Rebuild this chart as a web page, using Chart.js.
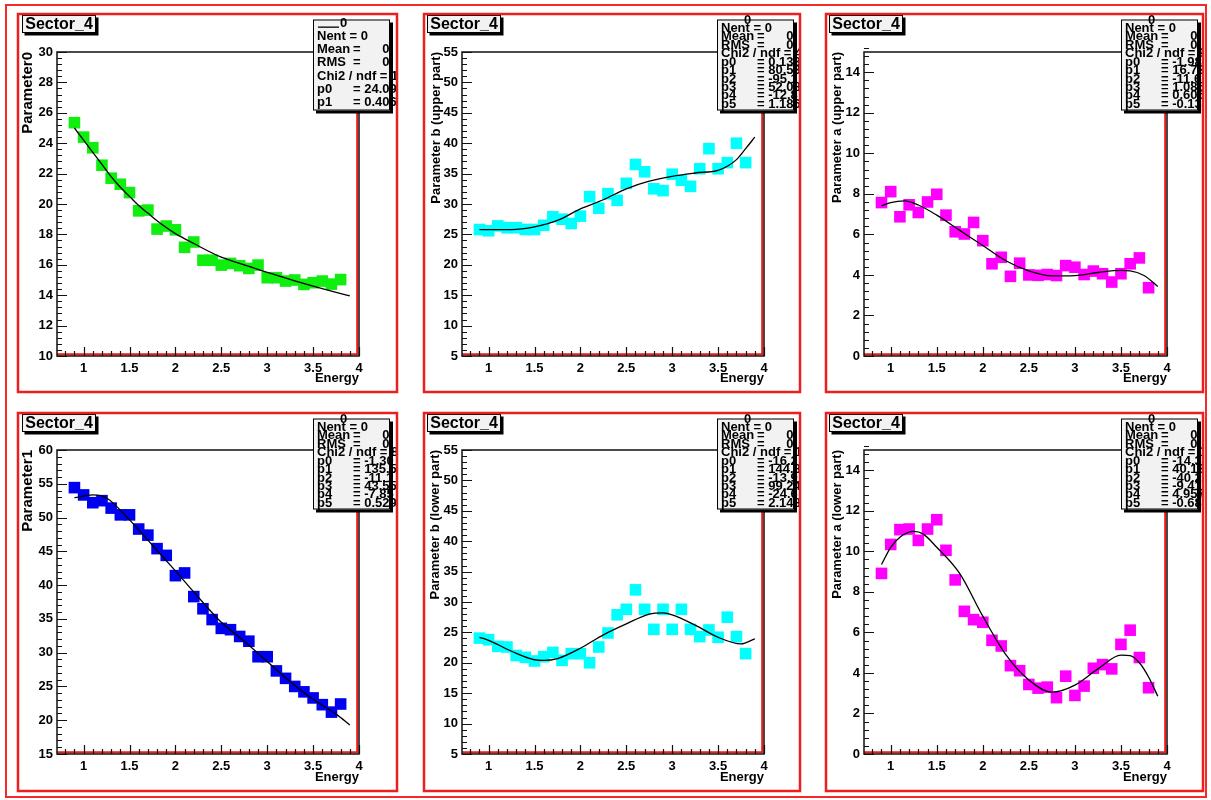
<!DOCTYPE html>
<html lang="en">
<head>
    <meta charset="UTF-8">
    <title>Sector_4 parameters vs Energy</title>
    <script src="https://cdn.jsdelivr.net/npm/chart.js"></script>
    <style>
        body {
            margin: 0;
            background: #fff;
            font-family: "Liberation Sans", Arial, sans-serif;
        }
        #outer {
            position: absolute;
            left: 5px;
            top: 4px;
            width: 1202px;
            height: 794px;
            border: 2px solid #f42a2a;
            box-sizing: border-box;
        }
        canvas.pad {
            position: absolute;
        }
    </style>
</head>
<body>
    <div id="outer"></div>
    <canvas id="pad1" class="pad"></canvas>
    <canvas id="pad2" class="pad"></canvas>
    <canvas id="pad3" class="pad"></canvas>
    <canvas id="pad4" class="pad"></canvas>
    <canvas id="pad5" class="pad"></canvas>
    <canvas id="pad6" class="pad"></canvas>

    <script>
        // ---- data ----
        const padTitle = 'Sector_4';
        const energy = [0.9, 1.0, 1.1, 1.2, 1.3, 1.4, 1.5, 1.6, 1.7, 1.8, 1.9, 2.0, 2.1, 2.2, 2.3,
                        2.4, 2.5, 2.6, 2.7, 2.8, 2.9, 3.0, 3.1, 3.2, 3.3, 3.4, 3.5, 3.6, 3.7, 3.8];
        const xTicks = [1, 1.5, 2, 2.5, 3, 3.5, 4];

        // Parameter0
        const par0 = [25.35, 24.4, 23.7, 22.55, 21.7, 21.3, 20.75, 19.55, 19.6, 18.35, 18.55, 18.3, 17.15, 17.5, 16.3,
                      16.3, 15.98, 16.09, 15.94, 15.76, 15.98, 15.15, 15.15, 14.93, 15.0, 14.71, 14.82, 14.93, 14.73, 15.03];
        const par0FitX = [0.9, 1.0, 1.1, 1.2, 1.3, 1.4, 1.5, 1.6, 1.7, 1.8, 1.9, 2.0, 2.2, 2.5, 2.8, 3.0, 3.3, 3.5, 3.7, 3.9];
        const par0FitY = [25.0, 24.2, 23.4, 22.6, 21.8, 21.1, 20.5, 19.9, 19.4, 18.9, 18.45, 18.05, 17.4, 16.5, 15.9, 15.5, 14.95, 14.6, 14.27, 13.95];
        const par0Ticks = [10, 12, 14, 16, 18, 20, 22, 24, 26, 28, 30];

        // Parameter b (upper part)
        const bUp = [25.8, 25.6, 26.4, 26.1, 26.1, 25.8, 25.8, 26.5, 27.9, 27.5, 26.8, 28.0, 31.2, 29.3, 31.7,
                     30.6, 33.4, 36.5, 35.3, 32.5, 32.2, 34.9, 33.9, 32.9, 35.8, 39.1, 35.8, 36.8, 40.0, 36.8];
        const bUpFitX = [0.9, 1.25, 1.5, 1.75, 2.0, 2.25, 2.5, 2.75, 3.0, 3.25, 3.5, 3.6, 3.7, 3.8, 3.9];
        const bUpFitY = [25.8, 25.8, 26.25, 27.3, 29.2, 30.7, 32.5, 33.75, 34.55, 35.1, 35.55, 36.2, 37.3, 39.1, 41.0];

        // Parameter a (upper part)
        const aUp = [7.57, 8.11, 6.87, 7.46, 7.08, 7.6, 7.98, 6.95, 6.13, 6.02, 6.59, 5.69, 4.55, 4.87, 3.93,
                     4.58, 4.0, 3.98, 4.02, 3.97, 4.46, 4.38, 4.02, 4.19, 4.06, 3.65, 4.06, 4.55, 4.84, 3.37];
        const aUpFitX = [0.9, 1.0, 1.15, 1.3, 1.5, 1.75, 2.0, 2.25, 2.5, 2.75, 3.0, 3.25, 3.5, 3.6, 3.75, 3.9];
        const aUpFitY = [7.41, 7.57, 7.65, 7.45, 6.95, 6.2, 5.45, 4.7, 4.2, 3.95, 3.97, 4.12, 4.22, 4.2, 3.97, 3.43];

        // Parameter1
        const par1 = [54.43, 53.35, 52.2, 52.5, 51.4, 50.4, 50.4, 48.3, 47.4, 45.4, 44.4, 41.4, 41.8, 38.3, 36.5,
                      34.9, 33.6, 33.4, 32.4, 31.7, 29.4, 29.4, 27.3, 26.2, 25.0, 24.2, 23.3, 22.3, 21.2, 22.4];
        const par1FitX = [0.9, 1.1, 1.25, 1.5, 1.75, 2.0, 2.25, 2.5, 2.75, 3.0, 3.25, 3.5, 3.75, 3.9];
        const par1FitY = [52.95, 53.35, 52.9, 49.65, 45.9, 42.1, 38.2, 34.5, 31.7, 28.7, 25.7, 23.1, 20.9, 19.3];
        const par1Ticks = [15, 20, 25, 30, 35, 40, 45, 50, 55, 60];

        // Parameter b (lower part)
        const bLow = [24.06, 23.8, 22.7, 22.6, 21.2, 20.9, 20.3, 21.0, 21.7, 20.4, 21.5, 21.5, 20.0, 22.6, 24.9,
                      27.9, 28.8, 32.0, 28.8, 25.5, 28.8, 25.5, 28.8, 25.5, 24.3, 25.4, 24.2, 27.5, 24.3, 21.5];
        const bLowFitX = [0.9, 1.0, 1.25, 1.5, 1.6, 1.75, 2.0, 2.25, 2.5, 2.75, 2.9, 3.0, 3.25, 3.5, 3.75, 3.9];
        const bLowFitY = [24.2, 23.7, 21.9, 20.5, 20.4, 20.7, 22.4, 24.6, 26.4, 28.0, 28.2, 27.9, 26.2, 24.2, 23.1, 23.95];
        const bTicks = [5, 10, 15, 20, 25, 30, 35, 40, 45, 50, 55];

        // Parameter a (lower part)
        const aLow = [8.91, 10.34, 11.07, 11.1, 10.54, 11.1, 11.56, 10.05, 8.59, 7.04, 6.63, 6.5, 5.61, 5.33, 4.36,
                      4.11, 3.43, 3.25, 3.3, 2.78, 3.84, 2.89, 3.35, 4.23, 4.41, 4.2, 5.41, 6.11, 4.76, 3.27];
        const aLowFitX = [0.9, 1.0, 1.1, 1.25, 1.35, 1.5, 1.75, 2.0, 2.25, 2.5, 2.75, 3.0, 3.25, 3.5, 3.6, 3.7, 3.8, 3.9];
        const aLowFitY = [9.35, 10.2, 10.7, 10.98, 10.86, 10.2, 8.9, 6.8, 4.9, 3.65, 3.05, 3.4, 4.2, 4.88, 4.85, 4.5, 3.8, 2.85];
        const aTicks = [0, 2, 4, 6, 8, 10, 12, 14];

        // stats box lines: [label, value]
        const stats1 = [['Nent = 0', ''], ['Mean', '=      0'], ['RMS', '=      0'], ['Chi2 / ndf = 19.2 / 28', ''],
                        ['p0', '= 24.09'], ['p1', '= 0.4061']];
        const stats2 = [['Nent = 0', ''], ['Mean', '=      0'], ['RMS', '=      0'], ['Chi2 / ndf = 41.3 / 24', ''],
                        ['p0', '= 0.133'], ['p1', '= 80.53'], ['p2', '= -95.1'], ['p3', '= 52.08'], ['p4', '= -12.8'], ['p5', '= 1.186']];
        const stats3 = [['Nent = 0', ''], ['Mean', '=      0'], ['RMS', '=      0'], ['Chi2 / ndf = 9.62 / 24', ''],
                        ['p0', '= -1.98'], ['p1', '= 16.72'], ['p2', '= -11.6'], ['p3', '= 1.085'], ['p4', '= 0.606'], ['p5', '= -0.13']];
        const stats4 = [['Nent = 0', ''], ['Mean', '=      0'], ['RMS', '=      0'], ['Chi2 / ndf = 8.13 / 24', ''],
                        ['p0', '= -1.30'], ['p1', '= 135.5'], ['p2', '= -11.1'], ['p3', '= 43.55'], ['p4', '= -7.85'], ['p5', '= 0.529']];
        const stats5 = [['Nent = 0', ''], ['Mean', '=      0'], ['RMS', '=      0'], ['Chi2 / ndf = 16.1 / 24', ''],
                        ['p0', '= -16.2'], ['p1', '= 144.8'], ['p2', '= -13.9'], ['p3', '= 99.24'], ['p4', '= -24.6'], ['p5', '= 2.148']];
        const stats6 = [['Nent = 0', ''], ['Mean', '=      0'], ['RMS', '=      0'], ['Chi2 / ndf = 13.5 / 24', ''],
                        ['p0', '= -14.3'], ['p1', '= 40.13'], ['p2', '= -40.2'], ['p3', '= -9.41'], ['p4', '= 4.957'], ['p5', '= -0.68']];

        // ---- layout (pixels on the 1211x800 page) ----
        const FONT = '"Liberation Sans", Arial, sans-serif';
        const cols = [
            { padL: 18, padR: 397, frameL: 57, frameR: 359, boxX: 313, titleX: 22 },
            { padL: 424, padR: 800, frameL: 462, frameR: 764, boxX: 717, titleX: 427 },
            { padL: 826, padR: 1203, frameL: 864, frameR: 1167, boxX: 1121, titleX: 829 }
        ];
        const rows = [
            { padT: 14, padB: 392, frameT: 52, frameB: 356, boxY: 19.5, titleY: 15 },
            { padT: 413, padB: 791, frameT: 450, frameB: 754, boxY: 418.5, titleY: 414 }
        ];

        const pads = [
            { id: 'pad1', col: 0, row: 0, color: '#10ee10', y: par0, fitX: par0FitX, fitY: par0FitY,
              yMin: 10, yMax: 30, yTicks: par0Ticks, yMinor: 0.4, yTitle: 'Parameter0', titleSize: 15, titlePad: 3,
              stats: stats1, bigStats: true },
            { id: 'pad2', col: 1, row: 0, color: '#00ffff', y: bUp, fitX: bUpFitX, fitY: bUpFitY,
              yMin: 5, yMax: 55, yTicks: bTicks, yMinor: 1, yTitle: 'Parameter b (upper part)', titleSize: 13, titlePad: 7,
              stats: stats2 },
            { id: 'pad3', col: 2, row: 0, color: '#ff00ff', y: aUp, fitX: aUpFitX, fitY: aUpFitY,
              yMin: 0, yMax: 15, yTicks: aTicks, yMinor: 0.4, yTitle: 'Parameter a (upper part)', titleSize: 13, titlePad: 6,
              stats: stats3 },
            { id: 'pad4', col: 0, row: 1, color: '#0000f0', y: par1, fitX: par1FitX, fitY: par1FitY,
              yMin: 15, yMax: 60, yTicks: par1Ticks, yMinor: 1, yTitle: 'Parameter1', titleSize: 15, titlePad: 3,
              stats: stats4 },
            { id: 'pad5', col: 1, row: 1, color: '#00ffff', y: bLow, fitX: bLowFitX, fitY: bLowFitY,
              yMin: 5, yMax: 55, yTicks: bTicks, yMinor: 1, yTitle: 'Parameter b (lower part)', titleSize: 13, titlePad: 6,
              stats: stats5 },
            { id: 'pad6', col: 2, row: 1, color: '#ff00ff', y: aLow, fitX: aLowFitX, fitY: aLowFitY,
              yMin: 0, yMax: 15, yTicks: aTicks, yMinor: 0.4, yTitle: 'Parameter a (lower part)', titleSize: 13, titlePad: 6,
              stats: stats6 }
        ];

        function shadowBox(ctx, x, y, w, h, sh) {
            ctx.fillStyle = '#000';
            ctx.fillRect(x + sh, y + sh, w, h);
            ctx.fillStyle = '#f2f2f2';
            ctx.fillRect(x, y, w, h);
            ctx.strokeStyle = '#000';
            ctx.lineWidth = 1;
            ctx.strokeRect(x + 0.5, y + 0.5, w - 1, h - 1);
        }

        // frame, inside ticks, title box, stats box and pad border, ROOT style
        function rootPadPlugin(p, g) {
            return {
                id: 'rootPad',
                beforeDatasetsDraw(chart) {
                    const ctx = chart.ctx, a = chart.chartArea;
                    const xs = chart.scales.x, ys = chart.scales.y;
                    ctx.save();
                    // red inner edge on right and bottom
                    ctx.strokeStyle = '#f01818';
                    ctx.lineWidth = 2;
                    ctx.beginPath();
                    ctx.moveTo(a.left, a.bottom - 1.8);
                    ctx.lineTo(a.right - 1.8, a.bottom - 1.8);
                    ctx.lineTo(a.right - 1.8, a.top);
                    ctx.stroke();
                    ctx.strokeStyle = '#111';
                    ctx.lineWidth = 1.5;
                    ctx.strokeRect(a.left, a.top, a.right - a.left, a.bottom - a.top);

                    ctx.lineWidth = 1.2;
                    ctx.beginPath();
                    const n = Math.round((p.yMax - p.yMin) / p.yMinor);
                    for (let i = 0; i <= n; i++) {
                        const v = p.yMin + i * p.yMinor;
                        const major = p.yTicks.some(t => Math.abs(t - v) < 1e-6);
                        const y = Math.round(ys.getPixelForValue(v)) + 0.5;
                        ctx.moveTo(a.left, y);
                        ctx.lineTo(a.left + (major ? 10 : 5), y);
                    }
                    for (let i = 8; i <= 40; i++) {
                        const v = i / 10;
                        const major = xTicks.some(t => Math.abs(t - v) < 1e-6);
                        const x = Math.round(xs.getPixelForValue(v)) + 0.5;
                        ctx.moveTo(x, a.bottom);
                        ctx.lineTo(x, a.bottom - (major ? 9 : 5));
                    }
                    ctx.stroke();
                    ctx.restore();
                },
                afterDraw(chart) {
                    const ctx = chart.ctx;
                    ctx.save();
                    // title box
                    shadowBox(ctx, g.tx, g.ty, 74, 18, 2.5);
                    ctx.fillStyle = '#000';
                    ctx.font = 'bold 16px ' + FONT;
                    ctx.textAlign = 'center';
                    ctx.textBaseline = 'middle';
                    ctx.fillText(padTitle, g.tx + 37, g.ty + 9.5);

                    // stats box, text may run past its right edge up to the pad border
                    shadowBox(ctx, g.bx, g.by, 77, 91, 3);
                    ctx.save();
                    ctx.beginPath();
                    ctx.rect(0, 0, g.clipR, chart.height);
                    ctx.clip();
                    ctx.fillStyle = '#000';
                    ctx.font = 'bold 13px ' + FONT;
                    ctx.textAlign = 'left';
                    const head = p.bigStats ? 4.2 : 0.5;
                    const first = p.bigStats ? 17.2 : 8.8;
                    const step = p.bigStats ? 13.1 : 8.44;
                    ctx.fillText('0', g.bx + 27, g.by + head);
                    if (p.bigStats) {
                        ctx.fillRect(g.bx + 5, g.by + 7, 21, 1.3);
                    }
                    p.stats.forEach((s, i) => {
                        const y = g.by + first + i * step;
                        ctx.fillText(s[0], g.bx + 4, y);
                        if (s[1]) ctx.fillText(s[1], g.bx + 40, y);
                    });
                    ctx.restore();

                    // pad border
                    ctx.strokeStyle = '#ec1f1f';
                    ctx.lineWidth = 2.5;
                    ctx.strokeRect(2, 2, g.padW, g.padH);
                    ctx.restore();
                }
            };
        }

        function createPad(p) {
            const c = cols[p.col], r = rows[p.row];
            const ox = c.padL - 2, oy = r.padT - 2;
            const w = c.padR - c.padL + 4, h = r.padB - r.padT + 4;
            const canvas = document.getElementById(p.id);
            canvas.width = w;
            canvas.height = h;
            canvas.style.left = ox + 'px';
            canvas.style.top = oy + 'px';
            canvas.style.width = w + 'px';
            canvas.style.height = h + 'px';

            const g = {
                padW: c.padR - c.padL, padH: r.padB - r.padT,
                tx: c.titleX - ox, ty: r.titleY - oy,
                bx: c.boxX - ox, by: r.boxY - oy,
                clipR: c.padR - 1 - ox
            };
            const yAxisW = c.frameL - ox;
            const xAxisH = (r.padB + 2) - r.frameB;
            const tickFont = { family: FONT, size: 13, weight: 'bold' };

            return new Chart(canvas.getContext('2d'), {
                type: 'scatter',
                data: {
                    datasets: [
                        {
                            label: 'fit',
                            data: p.fitX.map((x, i) => ({ x: x, y: p.fitY[i] })),
                            showLine: true,
                            borderColor: '#000',
                            borderWidth: 1.3,
                            pointRadius: 0,
                            cubicInterpolationMode: 'monotone',
                            order: 0
                        },
                        {
                            label: p.yTitle,
                            data: energy.map((x, i) => ({ x: x, y: p.y[i] })),
                            pointStyle: 'rect',
                            pointRadius: 8.2,
                            pointBorderWidth: 0,
                            backgroundColor: p.color,
                            borderColor: p.color,
                            order: 1
                        }
                    ]
                },
                options: {
                    responsive: false,
                    animation: false,
                    devicePixelRatio: 1,
                    layout: { padding: { left: 0, top: r.frameT - oy, right: (c.padR + 2) - c.frameR, bottom: 0 } },
                    plugins: { legend: { display: false }, tooltip: { enabled: false } },
                    scales: {
                        x: {
                            type: 'linear', min: 0.71, max: 4,
                            afterBuildTicks: s => { s.ticks = xTicks.map(v => ({ value: v })); },
                            afterFit: s => { s.height = xAxisH; },
                            grid: { display: false, drawTicks: false },
                            border: { display: false },
                            ticks: { autoSkip: false, maxRotation: 0, padding: 5, color: '#000', font: tickFont,
                                     callback: v => String(v) },
                            title: { display: true, text: 'Energy', align: 'end', color: '#000', font: tickFont,
                                     padding: { top: 0, bottom: 8 } }
                        },
                        y: {
                            type: 'linear', min: p.yMin, max: p.yMax,
                            afterBuildTicks: s => { s.ticks = p.yTicks.map(v => ({ value: v })); },
                            afterFit: s => { s.width = yAxisW; },
                            grid: { display: false, drawTicks: false },
                            border: { display: false },
                            ticks: { autoSkip: false, padding: 4, color: '#000', font: tickFont,
                                     callback: v => String(v) },
                            title: { display: true, text: p.yTitle, align: 'end', color: '#000',
                                     font: { family: FONT, size: p.titleSize, weight: 'bold' },
                                     padding: { top: p.titlePad, bottom: 0 } }
                        }
                    }
                },
                plugins: [rootPadPlugin(p, g)]
            });
        }

        pads.forEach(createPad);
    </script>
</body>
</html>
